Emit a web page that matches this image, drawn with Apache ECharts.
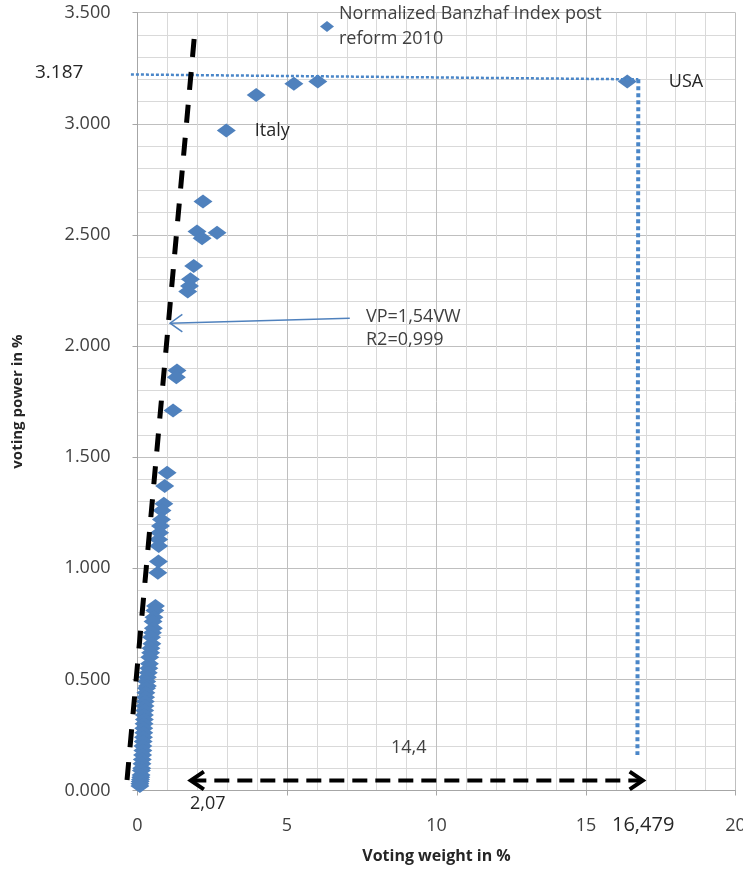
<!DOCTYPE html>
<html><head><meta charset="utf-8">
<script src="https://cdn.jsdelivr.net/npm/echarts@6/dist/echarts.min.js"></script>
<style>html,body{margin:0;padding:0;background:#fff}#c{width:743px;height:870px}</style>
</head><body><div id="c"></div>
<script>
const seriesName = 'Normalized Banzhaf Index post\nreform 2010';
const xAxisTitle = 'Voting weight in %';
const yAxisTitle = 'voting power in %';
// voting weight (%) and normalized Banzhaf voting power (%) per member
const votingWeight = [16.38, 6.03, 5.23, 3.97, 2.97, 2.19, 1.99, 2.16, 2.66, 1.88, 1.77, 1.74, 1.68, 1.32, 1.30, 1.19,
  0.99, 0.91, 0.88, 0.82, 0.80, 0.77, 0.74, 0.71, 0.71, 0.70, 0.68,
  0.60, 0.58, 0.55, 0.52, 0.53, 0.50, 0.47, 0.48, 0.45, 0.44, 0.41, 0.40, 0.38, 0.36, 0.33, 0.31, 0.33, 0.30, 0.28,
  0.27, 0.26, 0.25, 0.24, 0.23, 0.23, 0.22, 0.21, 0.21, 0.20, 0.19, 0.18, 0.18, 0.17, 0.16, 0.15, 0.14, 0.13, 0.12,
  0.11, 0.10, 0.09, 0.08, 0.08];
const votingPower = [3.19, 3.19, 3.18, 3.13, 2.97, 2.65, 2.515, 2.485, 2.51, 2.36, 2.30, 2.27, 2.245, 1.89, 1.86, 1.71,
  1.43, 1.37, 1.29, 1.26, 1.22, 1.19, 1.16, 1.13, 1.10, 1.03, 0.98,
  0.83, 0.81, 0.78, 0.76, 0.73, 0.71, 0.69, 0.66, 0.64, 0.62, 0.60, 0.57, 0.55, 0.53, 0.51, 0.49, 0.47, 0.46, 0.44,
  0.42, 0.40, 0.38, 0.36, 0.34, 0.32, 0.30, 0.28, 0.26, 0.24, 0.22, 0.20, 0.18, 0.16, 0.14, 0.12, 0.10, 0.09, 0.07,
  0.06, 0.05, 0.04, 0.03, 0.02];
const countryLabels = [{index: 0, name: 'USA'}, {index: 4, name: 'Italy'}];
const xTickValues = [0, 5, 10, 15, 20];
const yTickValues = [0, 0.5, 1.0, 1.5, 2.0, 2.5, 3.0, 3.5];
// annotation geometry (data units)
const trendLine = [[-0.35, 0.047], [1.92, 3.42]];
const refHorizontal = [[-0.22, 3.222], [16.75, 3.200]];
const refVertical = [[16.75, 3.200], [16.72, 0.16]];
const spanArrow = [[1.80, 0.045], [16.88, 0.045]];
const spanHeadLeft = [[2.22, 0.085], [1.78, 0.045], [2.22, 0.005]];
const spanHeadRight = [[16.46, 0.085], [16.90, 0.045], [16.46, 0.005]];
const vpArrow = [[7.10, 2.125], [1.09, 2.103]];
const vpHead = [[1.50, 2.142], [1.09, 2.103], [1.50, 2.064]];
const annotationTexts = {refValue: '3.187', formula: 'VP=1,54VW', r2: 'R2=0,999', span: '14,4', left: '2,07', right: '16,479'};

const FONT = 'Open Sans';
const BLUE = '#4F81BD';
const chart = echarts.init(document.getElementById('c'), null, {renderer: 'canvas'});

const pts = votingWeight.map((w, i) => {
  const item = {value: [w, votingPower[i]]};
  const lab = countryLabels.find(c => c.index === i);
  if (lab) {
    item.label = {show: true, formatter: lab.name, position: 'right',
      distance: lab.name === 'USA' ? 32 : 19,
      color: '#262626', fontFamily: FONT, fontSize: 18};
  }
  return item;
});

const option = {
  animation: false,
  textStyle: {fontFamily: FONT},
  grid: {left: 137.5, right: 7.5, top: 12.7, bottom: 79.5, containLabel: false, outerBoundsMode: 'none'},
  legend: {
    data: [{name: seriesName, icon: 'diamond'}],
    left: 320, top: -11, padding: 0,
    itemWidth: 14, itemHeight: 11,
    selectedMode: false,
    textStyle: {fontFamily: FONT, fontSize: 18, color: '#404040', lineHeight: 25, padding: [25, 0, 0, 0]}
  },
  xAxis: {
    type: 'value', min: 0, max: 20, interval: 5,
    name: xAxisTitle, nameLocation: 'middle', nameGap: 58,
    nameTextStyle: {fontFamily: FONT, fontSize: 16, fontWeight: 'bold', color: '#262626'},
    axisLine: {show: true, lineStyle: {color: '#a6a6a6'}},
    axisTick: {show: true, length: 5, lineStyle: {color: '#a6a6a6'}},
    axisLabel: {margin: 26, fontFamily: FONT, fontSize: 18, color: '#404040',
      formatter: v => xTickValues.includes(v) ? String(v) : ''},
    splitLine: {show: true, lineStyle: {color: '#bfbfbf'}},
    minorTick: {show: true, splitNumber: 5, length: 0, lineStyle: {color: 'rgba(0,0,0,0)'}},
    minorSplitLine: {show: true, lineStyle: {color: '#d9d9d9'}}
  },
  yAxis: {
    type: 'value', min: 0, max: 3.5, interval: 0.5,
    name: yAxisTitle, nameLocation: 'middle', nameGap: 112, nameRotate: 90,
    nameTextStyle: {fontFamily: FONT, fontSize: 15, fontWeight: 'bold', color: '#262626'},
    axisLine: {show: true, lineStyle: {color: '#a6a6a6'}},
    axisTick: {show: true, length: 5, lineStyle: {color: '#a6a6a6'}},
    axisLabel: {margin: 27, fontFamily: FONT, fontSize: 18, color: '#404040',
      formatter: v => yTickValues.some(t => Math.abs(t - v) < 1e-9) ? v.toFixed(3) : ''},
    splitLine: {show: true, lineStyle: {color: '#bfbfbf'}},
    minorTick: {show: true, splitNumber: 5, length: 0, lineStyle: {color: 'rgba(0,0,0,0)'}},
    minorSplitLine: {show: true, lineStyle: {color: '#d9d9d9'}}
  },
  series: [
    {
      name: seriesName, type: 'scatter', symbol: 'diamond', symbolSize: [19, 14],
      itemStyle: {color: BLUE, opacity: 1}, data: pts, z: 3, animation: false, clip: false
    }
  ]
};
chart.setOption(option);

const toPx = p => chart.convertToPixel({gridIndex: 0}, p);
function poly(points, stroke, width, dash, z) {
  return {type: 'polyline', silent: true, z: z || 50,
    shape: {points: points.map(toPx)},
    style: {stroke: stroke, lineWidth: width, lineDash: dash || null, fill: null, lineCap: 'butt', lineJoin: 'miter'}};
}
function txt(left, top, text, size, color) {
  return {type: 'text', left: left, top: top, silent: true, z: 60,
    style: {text: text, font: size + 'px "Open Sans"', fill: color}};
}
chart.setOption({
  graphic: [
    poly(refHorizontal, '#4a86c8', 2.5, [3, 2], 5),
    poly(refVertical, '#4a86c8', 4, [4, 3], 5),
    poly(trendLine, '#000', 5, [18, 15]),
    poly(spanArrow, '#000', 4, [15, 8]),
    poly(spanHeadLeft, '#000', 4),
    poly(spanHeadRight, '#000', 4),
    poly(vpArrow, BLUE, 1.5),
    poly(vpHead, BLUE, 1.5),
    txt(35, 63, annotationTexts.refValue, 19, '#262626'),
    txt(366, 308, annotationTexts.formula, 18, '#404040'),
    txt(366, 331, annotationTexts.r2, 18, '#404040'),
    txt(391, 739, annotationTexts.span, 18, '#404040'),
    txt(190, 795, annotationTexts.left, 18, '#262626'),
    txt(612, 815, annotationTexts.right, 20, '#262626')
  ]
});
</script></body></html>
